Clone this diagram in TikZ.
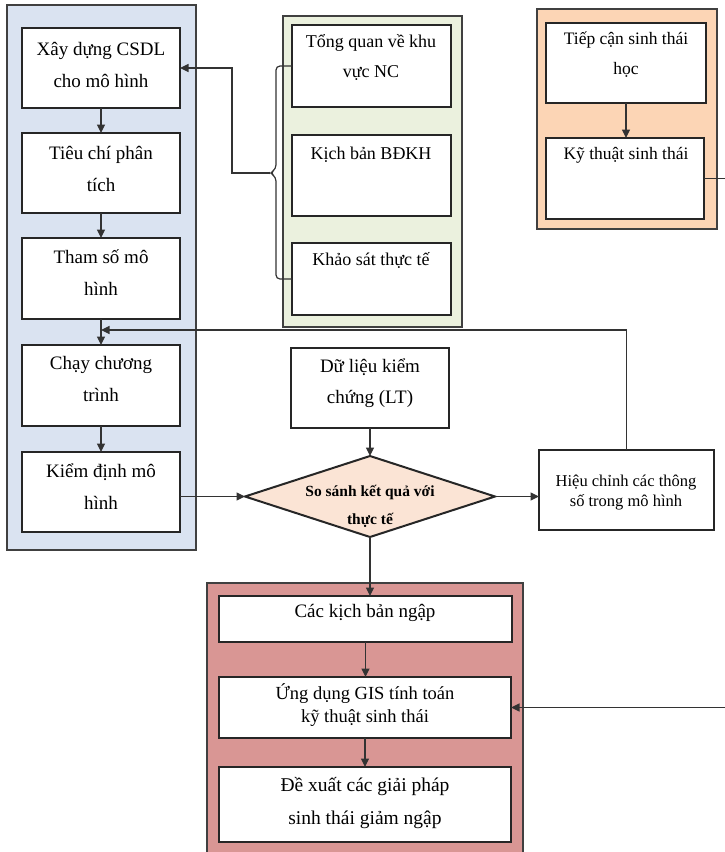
\documentclass[tikz,border=0pt]{standalone}
\usepackage{fontspec}
\setmainfont{Liberation Serif}
\usetikzlibrary{arrows.meta,shapes.geometric}
\definecolor{bluebg}{HTML}{DAE3F1}
\definecolor{greenbg}{HTML}{EBF1DE}
\definecolor{orangebg}{HTML}{FCD5B5}
\definecolor{redbg}{HTML}{D99694}
\definecolor{diafill}{HTML}{FBE4D5}
\begin{document}
\begin{tikzpicture}[x=1pt,y=-1pt,
 panel/.style={draw=black!75,line width=1.3pt,anchor=north west,inner sep=0pt,outer sep=0pt},
 box/.style={draw=black!85,fill=white,line width=1.5pt,anchor=north west,inner sep=0pt,outer sep=0pt},
 txt/.style={align=center,inner sep=0pt,font=\fontsize{19}{32}\selectfont},
 conn/.style={draw=black!80,line width=1.2pt},
 arr/.style={conn,-{Triangle[length=8.5pt,width=8pt]}}]
\useasboundingbox (0,0) rectangle (725,852);
% panels
\node[panel,fill=bluebg,minimum width=189pt,minimum height=545pt] (pb) at (7,5) {};
\node[panel,fill=greenbg,minimum width=179pt,minimum height=311pt] (pg) at (283,16) {};
\node[panel,fill=orangebg,minimum width=180pt,minimum height=220pt] (po) at (537,9) {};
\node[panel,fill=redbg,minimum width=316pt,minimum height=290pt] (pr) at (207,583) {};
% blue column
\node[box,minimum width=158pt,minimum height=80pt] (b1) at (22,28) {};
\node[box,minimum width=158pt,minimum height=80pt] (b2) at (22,133) {};
\node[box,minimum width=158pt,minimum height=81pt] (b3) at (22,238) {};
\node[box,minimum width=158pt,minimum height=81pt] (b4) at (22,345) {};
\node[box,minimum width=158pt,minimum height=80pt] (b5) at (22,452) {};
\node[txt] (b1t) at (101,65) {Xây dựng CSDL\\cho mô hình};
\node[txt] (b2t) at (101,169) {Tiêu chí phân\\tích};
\node[txt] (b3t) at (101,273) {Tham số mô\\hình};
\node[txt] (b4t) at (101,379) {Chạy chương\\trình};
\node[txt] (b5t) at (101,487) {Kiểm định mô\\hình};
% green column
\node[box,minimum width=159pt,minimum height=82pt] (g1) at (292,25) {};
\node[box,minimum width=159pt,minimum height=81pt] (g2) at (292,135) {};
\node[box,minimum width=159pt,minimum height=72pt] (g3) at (292,243) {};
\node[txt,font=\fontsize{18}{30}\selectfont] (g1t) at (371,57) {Tổng quan về khu\\vực NC};
\node[txt,font=\fontsize{18}{30}\selectfont] (g2t) at (371,155) {Kịch bản BĐKH};
\node[txt,font=\fontsize{18}{30}\selectfont] (g3t) at (371,260) {Khảo sát thực tế};
% orange column
\node[box,minimum width=160pt,minimum height=80pt] (o1) at (546,23) {};
\node[box,minimum width=158pt,minimum height=81pt] (o2) at (546,138) {};
\node[txt,font=\fontsize{17.5}{30}\selectfont] (o1t) at (626,55) {Tiếp cận sinh thái\\học};
\node[txt,font=\fontsize{17.5}{30}\selectfont] (o2t) at (626,155) {Kỹ thuật sinh thái};
% middle
\node[box,minimum width=158pt,minimum height=80pt] (dl) at (291,348) {};
\node[txt,font=\fontsize{19}{31}\selectfont] (dlt) at (370,383) {Dữ liệu kiểm\\chứng (LT)};
\node[diamond,draw=black!85,fill=diafill,line width=2pt,minimum width=250pt,minimum height=81pt,aspect=3.09,inner sep=0pt,outer sep=0pt] (dia) at (370,496.5) {};
\node[txt,font=\bfseries\fontsize{15.5}{28}\selectfont] (diat) at (370,506) {So sánh kết quả với\\thực tế};
\node[box,minimum width=175pt,minimum height=80pt] (hc) at (539,450) {};
\node[txt,font=\fontsize{16.5}{20}\selectfont] (hct) at (626,493) {Hiệu chỉnh các thông\\số trong mô hình};
% red column
\node[box,minimum width=293pt,minimum height=46pt] (r1) at (219,596) {};
\node[box,minimum width=292pt,minimum height=61pt] (r2) at (219,677) {};
\node[box,minimum width=292pt,minimum height=75pt] (r3) at (219,767) {};
\node[txt] (r1t) at (365,613) {Các kịch bản ngập};
\node[txt,font=\fontsize{18.5}{23}\selectfont] (r2t) at (365,705) {Ứng dụng GIS tính toán\\kỹ thuật sinh thái};
\node[txt,font=\fontsize{19.5}{33}\selectfont] (r3t) at (365,803) {Đề xuất các giải pháp\\sinh thái giảm ngập};
% connectors
\draw[arr] (b1.south) -- (b2.north);
\draw[arr] (b2.south) -- (b3.north);
\draw[arr] (b3.south) -- (b4.north);
\draw[arr] (b4.south) -- (b5.north);
\coordinate (bp) at (270,173);
\draw[conn,rounded corners=4pt] (g1.west) -- (276,66) -- (276,169) -- (bp) -- (276,177) -- (276,279) -- (g3.west);
\draw[arr] (bp) -- (232,173) |- (b1.east);
\coordinate (fbtip) at (101,330);
\draw[arr] (hc.north) |- (fbtip);
\draw[arr] (b5.east |- dia.west) -- (dia.west);
\draw[arr] (dia.east) -- (dia.east -| hc.west);
\draw[arr] (dl.south) -- (dia.north);
\draw[arr] (dia.south) -- (dia.south |- r1.north);
\draw[arr] (r1.south) -- (r1.south |- r2.north);
\draw[arr] (r2.south) -- (r3.north);
\draw[arr] (o1.south) -- (o1.south |- o2.north);
\draw[arr] (o2.east) -- ++(23,0) |- (r2.east);
\end{tikzpicture}
\end{document}
